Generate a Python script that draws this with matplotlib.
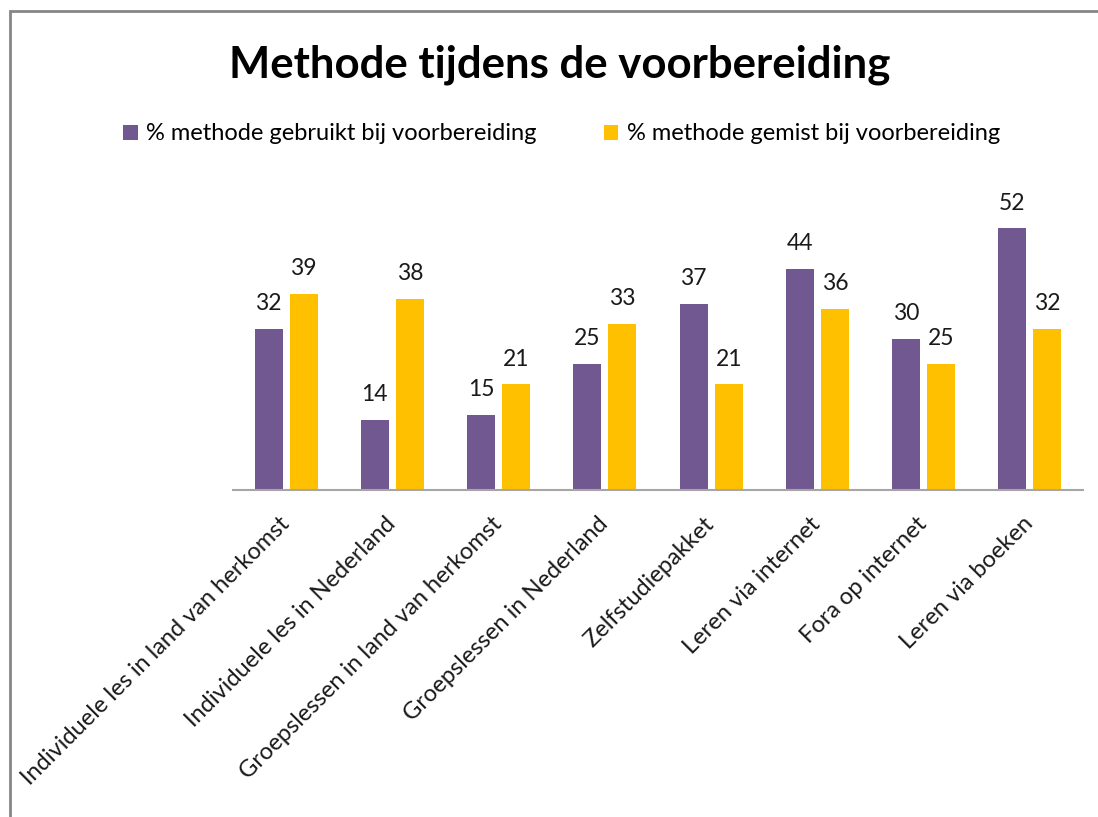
import matplotlib.pyplot as plt
from matplotlib.patches import Rectangle
import numpy as np

plt.rcParams['font.family'] = ['Lato', 'DejaVu Sans']

categories = ['Individuele les in land van herkomst', 'Individuele les in Nederland',
              'Groepslessen in land van herkomst', 'Groepslessen in Nederland',
              'Zelfstudiepakket', 'Leren via internet', 'Fora op internet', 'Leren via boeken']
gebruikt = [32, 14, 15, 25, 37, 44, 30, 52]
gemist = [39, 38, 21, 33, 21, 36, 25, 32]
series_names = ['% methode gebruikt bij voorbereiding', '% methode gemist bij voorbereiding']

purple = '#725891'
yellow = '#FFC000'

fig = plt.figure(figsize=(10.98, 8.17), dpi=100)
ax = fig.add_axes([233/1098, 1-490/817, 850/1098, 302/817])

x = np.arange(len(categories))
w = 0.263
b1 = ax.bar(x - 0.165, gebruikt, w, color=purple, label=series_names[0])
b2 = ax.bar(x + 0.165, gemist, w, color=yellow, label=series_names[1])

for bars, vals in ((b1, gebruikt), (b2, gemist)):
    for r, v in zip(bars, vals):
        ax.annotate(str(v), (r.get_x() + r.get_width()/2, v), xytext=(0, 13.5),
                    textcoords='offset points', ha='center', va='baseline',
                    fontsize=16.5, color='#1a1a1a')

ax.set_xlim(-0.5, len(categories) - 0.5)
ax.set_ylim(0, 60)
ax.set_yticks([])
for s in ('top', 'right', 'left'):
    ax.spines[s].set_visible(False)
ax.spines['bottom'].set_color('#a6a6a6')
ax.spines['bottom'].set_linewidth(1.5)

ax.set_xticks(x)
ax.set_xticklabels(categories, rotation=45, ha='right', va='center',
                   rotation_mode='anchor', fontsize=17, color='#1a1a1a')
ax.tick_params(axis='x', length=0, pad=22)

fig.text(560/1098, 1-65/817, 'Methode tijdens de voorbereiding', ha='center', va='center',
         fontsize=31.5, fontweight='bold', color='black')

fig.legend(handles=[b1, b2], loc='center', bbox_to_anchor=(562/1098, 1-134/817), ncol=2,
           frameon=False, fontsize=17, handlelength=0.6, handleheight=0.6,
           handletextpad=0.38, columnspacing=2.85)

fig.add_artist(Rectangle((10/1098, -0.1), 1.2, 1.1 - 11/817, transform=fig.transFigure,
                         fill=False, edgecolor='#868686', linewidth=2))

fig.savefig('out.png', dpi=100)
